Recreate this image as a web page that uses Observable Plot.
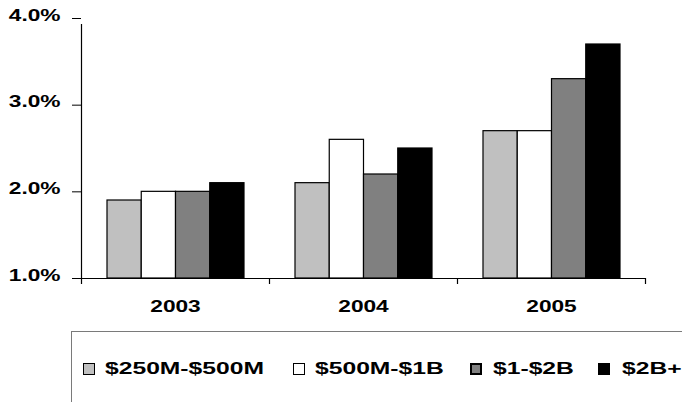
<!DOCTYPE html>
<html>
<head>
<meta charset="utf-8">
<script src="https://cdn.jsdelivr.net/npm/d3@7"></script>
<script src="https://cdn.jsdelivr.net/npm/@observablehq/plot@0.6"></script>
<style>
  body { margin: 0; background: #fff; overflow: hidden; }
  #wrap { position: relative; width: 682px; height: 402px; overflow: hidden; background: #fff; }
  #chart svg { display: block; }
  #legend { position: absolute; left: 71px; top: 331px; width: 700px; height: 120px;
            border: 1px solid #7a7a7a; box-sizing: border-box; }
  .sw { position: absolute; top: 31px; width: 12px; height: 12px; box-sizing: border-box; border: 1px solid #000; }
  .lt { position: absolute; top: 27px; line-height: 20px; white-space: nowrap;
        font: bold 17px "Liberation Sans", Arial, sans-serif; color: #000;
        transform: scaleX(1.45); transform-origin: left center; }
</style>
</head>
<body>
<div id="wrap">
  <div id="chart"></div>
  <div id="legend"></div>
</div>
<script>
// ---- data ----
const years = ["2003", "2004", "2005"];
const series = ["$250M-$500M", "$500M-$1B", "$1-$2B", "$2B+"];
const colors = ["#c0c0c0", "#ffffff", "#808080", "#000000"];
const v250to500 = [1.9, 2.1, 2.7];
const v500to1B = [2.0, 2.6, 2.7];
const v1to2B = [2.0, 2.2, 3.3];
const v2Bplus = [2.1, 2.5, 3.7];
const yTicks = [1, 2, 3, 4];

const values = [v250to500, v500to1B, v1to2B, v2Bplus];
const rows = years.flatMap((yr, j) => series.map((s, i) => ({year: yr, series: s, value: values[i][j]})));

// ---- layout ----
const W = 682, H = 320, mL = 81, mR = 37, mT = 18, mB = 42;
const step = (W - mL - mR) / years.length;
const groupStart = 26, slot = 34.25;
const legendSwatchX = [11, 221, 398, 526];
const legendTextX = [33, 243, 421, 550];
const font = "'Liberation Sans', Arial, sans-serif";

const plot = Plot.plot({
  width: W, height: H,
  marginLeft: mL, marginRight: mR, marginTop: mT, marginBottom: mB,
  style: {fontFamily: font, fontSize: "16px", color: "black", background: "white"},
  x: {type: "band", domain: years, padding: 0, axis: null, label: null},
  y: {domain: [1, 4], axis: null, label: null},
  color: {domain: series, range: colors},
  marks: [
    ...series.map((s, i) => Plot.barY(rows.filter(d => d.series === s), {
      x: "year", y1: 1, y2: "value", fill: "series", stroke: "black", strokeWidth: 1.2,
      insetLeft: groupStart + slot * i,
      insetRight: step - groupStart - slot * (i + 1)
    })),
    Plot.ruleY([1], {stroke: "black", strokeWidth: 1.2}),
    Plot.ruleX(years.slice(0, 1), {x: d => d, y1: 1, y2: 4, dx: -step / 2, insetBottom: -6, stroke: "black", strokeWidth: 1.2}),
    Plot.ruleX(years, {x: d => d, y1: 1, y2: 1, dx: -step / 2, insetBottom: -6, stroke: "black", strokeWidth: 1.2}),
    Plot.ruleX(years.slice(-1), {x: d => d, y1: 1, y2: 1, dx: step / 2, insetBottom: -6, stroke: "black", strokeWidth: 1.2}),
    Plot.axisY({ticks: yTicks, tickFormat: d => d.toFixed(1) + "%", tickSize: 9, tickPadding: 12,
                fontSize: 16, fontWeight: "bold", label: null, stroke: "black"}),
    Plot.axisX({tickSize: 0, tickPadding: 33, fontSize: 16, fontWeight: "bold", label: null})
  ]
});

// stretch axis texts horizontally like the reference
function stretch(root, selector, k, shiftY) {
  root.querySelectorAll(selector).forEach(t => {
    const x = +t.getAttribute("x") || 0, y = (+t.getAttribute("y") || 0) + shiftY;
    const tr = t.getAttribute("transform") || "";
    t.setAttribute("transform", `${tr} translate(${x},${y}) scale(${k},1)`);
    t.removeAttribute("x"); t.removeAttribute("y");
  });
}
stretch(plot, 'g[aria-label="y-axis tick label"] text', 1.42, 2);
stretch(plot, 'g[aria-label="x-axis tick label"] text', 1.42, 0);
document.getElementById("chart").appendChild(plot);

// legend
const color = plot.scale("color");
const legend = document.getElementById("legend");
series.forEach((s, i) => {
  const sw = document.createElement("div");
  sw.className = "sw";
  sw.style.left = legendSwatchX[i] + "px";
  sw.style.background = color.apply(s);
  if (i === 2) sw.style.borderWidth = "2px";
  legend.appendChild(sw);
  const tx = document.createElement("div");
  tx.className = "lt";
  tx.style.left = legendTextX[i] + "px";
  tx.textContent = s;
  legend.appendChild(tx);
});
</script>
</body>
</html>
